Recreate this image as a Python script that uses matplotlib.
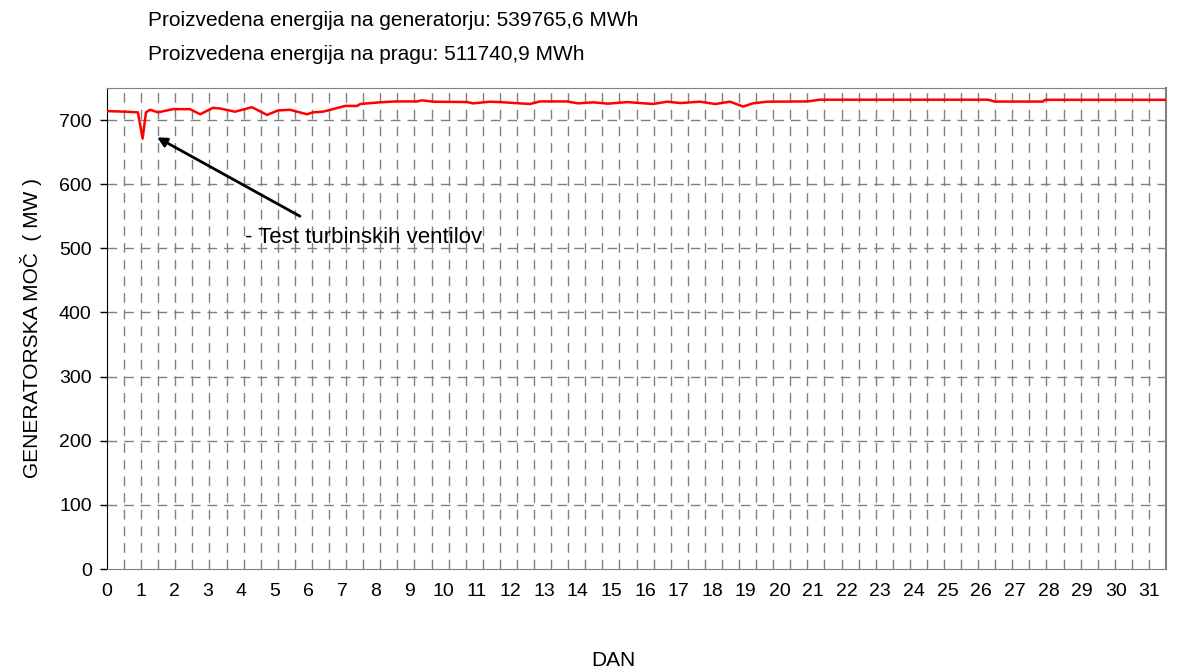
import matplotlib.pyplot as plt
import numpy as np

plt.rcParams['font.family'] = ['Liberation Sans', 'DejaVu Sans']

# day of month, generator power (MW)
day = [0.00, 0.54, 0.92, 1.06, 1.16, 1.28, 1.52, 1.96, 2.47, 2.77,
       3.15, 3.36, 3.81, 4.31, 4.76, 5.09, 5.44, 5.95, 6.13, 6.42,
       6.72, 7.08, 7.44, 7.53, 8.12, 8.57, 9.22, 9.37, 9.70, 10.71,
       10.89, 11.39, 11.69, 12.58, 12.88, 13.68, 14.01, 14.46, 14.90, 15.47,
       16.24, 16.66, 17.05, 17.64, 18.09, 18.53, 18.92, 19.21, 19.63, 20.82,
       20.97, 21.21, 23.59, 26.20, 26.41, 27.84, 27.90, 31.50]
power = [714, 713, 712, 671, 712, 716, 712, 717, 717, 709,
         719, 718, 713, 720, 708, 715, 716, 709, 712, 713,
         717, 722, 722, 725, 727.6, 729, 729, 730.7, 728.6, 728,
         726, 728.6, 728, 725, 729, 729, 726, 727.6, 725.5, 728,
         725, 728.6, 726.5, 728.6, 725, 728.6, 721, 726, 728.6, 729,
         730, 731.7, 731.7, 731.7, 728.8, 728.8, 731.5, 731.5]

day_labels = [str(d) for d in range(32)]
title_lines = ['Proizvedena energija na generatorju: 539765,6 MWh',
               'Proizvedena energija na pragu: 511740,9 MWh']
note = '- Test turbinskih ventilov'

fig = plt.figure(figsize=(11.77, 6.71), dpi=100)
ax = fig.add_axes([0.0909, 0.152, 0.8998, 0.7169])

ax.plot(day, power, color='#ff0000', lw=1.8, zorder=3)

ax.set_xlim(0, 31.5)
ax.set_ylim(0, 750)
ax.set_yticks(np.arange(0, 701, 100))
ax.set_xticks(range(32), day_labels)

grid_kw = dict(color='#808080', lw=1, dashes=(7, 5))
for xv in np.linspace(0, 31.5, 63)[1:-1]:
    ax.axvline(xv, **grid_kw, zorder=1)
for yv in range(100, 701, 100):
    ax.axhline(yv, **grid_kw, zorder=1)

ax.tick_params(axis='x', which='both', length=0, pad=10, labelsize=14)
ax.tick_params(axis='y', length=5, width=1, labelsize=14, pad=6)
ax.spines['left'].set_color('black')
for s in ['top', 'right', 'bottom']:
    ax.spines[s].set_color('#808080')
ax.spines['right'].set_linewidth(1.5)

ax.set_ylabel('GENERATORSKA MOČ  ( MW )', fontsize=15, labelpad=12)
fig.text(613 / 1177, 1 - 660 / 671, 'DAN', fontsize=15, ha='center', va='center')

fig.text(148 / 1177, 1 - 21 / 671, title_lines[0], fontsize=15, va='center')
fig.text(148 / 1177, 1 - 54 / 671, title_lines[1], fontsize=15, va='center')

ax.annotate('', xy=(1.49, 673), xytext=(5.74, 550),
            arrowprops=dict(arrowstyle='-|>', color='black', lw=2,
                            mutation_scale=14, shrinkA=0, shrinkB=0))
ax.text(4.10, 517, note, fontsize=16, va='center', ha='left')

plt.savefig('out.png', dpi=100)
